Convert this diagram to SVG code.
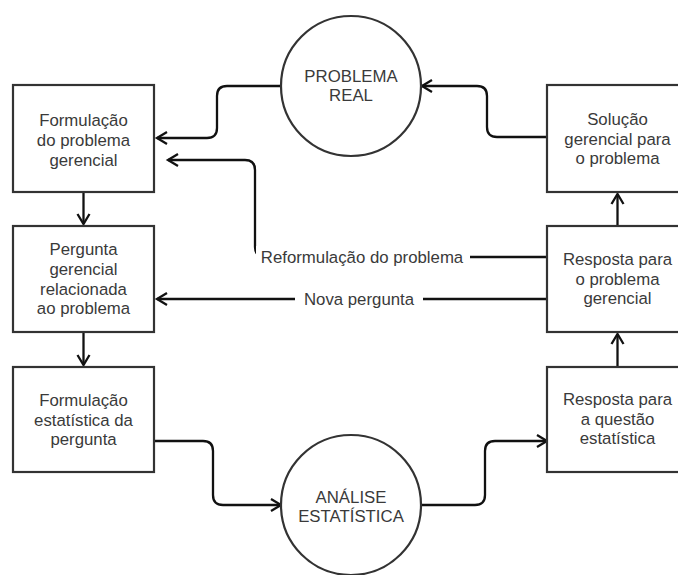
<svg xmlns="http://www.w3.org/2000/svg" width="678" height="575" viewBox="0 0 678 575">
<style>
.box{fill:#fff;stroke:#333;stroke-width:2.2}
.t{font-family:"Liberation Sans",Arial,sans-serif;font-size:16.8px;fill:#3a3a3a;text-anchor:middle}
.c{fill:none;stroke:#111;stroke-width:2.3;marker-end:url(#arr)}
.lb{fill:#fff}
</style>
<defs>
<marker id="arr" markerUnits="userSpaceOnUse" markerWidth="16" markerHeight="16" viewBox="-12 -8 16 16" refX="0" refY="0" orient="auto">
<path d="M-10,-6 L0,0 L-10,6" fill="none" stroke="#111" stroke-width="2.3"/>
</marker>
</defs>
<rect width="678" height="575" fill="#fff"/>
<g id="connectors">
<path class="c" d="M281,86 H227 Q217,86 217,96 V128 Q217,138 207,138 H157"/>
<path class="c" d="M547,137 H497 Q487,137 487,127 V96 Q487,86 477,86 H422"/>
<path class="c" d="M547,257 H265 Q255,257 255,247 V170 Q255,160 245,160 H168"/>
<rect class="lb" x="256" y="246" width="214" height="22"/>
<text class="t" x="362" y="263">Reformulação do problema</text>
<path class="c" d="M547,299 H157"/>
<rect class="lb" x="295" y="288" width="128" height="22"/>
<text class="t" x="359" y="305">Nova pergunta</text>
<path class="c" d="M154,441 H203 Q213,441 213,451 V495 Q213,505 223,505 H281"/>
<path class="c" d="M421,505 H475 Q485,505 485,495 V451 Q485,441 495,441 H547"/>
<path class="c" d="M83.5,192 V224"/>
<path class="c" d="M83.5,332 V365"/>
<path class="c" d="M617.5,367 V334"/>
<path class="c" d="M617.5,226 V194"/>
</g>
<g id="problema-real">
<circle class="box" cx="351" cy="86" r="70"/>
<text class="t" x="351" y="82">PROBLEMA</text>
<text class="t" x="351" y="101">REAL</text>
</g>
<g id="analise">
<circle class="box" cx="351" cy="505" r="70"/>
<text class="t" x="351" y="503">ANÁLISE</text>
<text class="t" x="351" y="522">ESTATÍSTICA</text>
</g>
<g id="formulacao-problema">
<rect class="box" x="13" y="85" width="141" height="107"/>
<text class="t" x="83.5" y="126">Formulação</text>
<text class="t" x="83.5" y="146">do problema</text>
<text class="t" x="83.5" y="166">gerencial</text>
</g>
<g id="pergunta-gerencial">
<rect class="box" x="13" y="226" width="141" height="106"/>
<text class="t" x="83.5" y="255">Pergunta</text>
<text class="t" x="83.5" y="275">gerencial</text>
<text class="t" x="83.5" y="295">relacionada</text>
<text class="t" x="83.5" y="314">ao problema</text>
</g>
<g id="formulacao-estatistica">
<rect class="box" x="13" y="367" width="141" height="105"/>
<text class="t" x="83.5" y="406">Formulação</text>
<text class="t" x="83.5" y="426">estatística da</text>
<text class="t" x="83.5" y="445">pergunta</text>
</g>
<g id="solucao">
<rect class="box" x="547" y="85" width="141" height="107"/>
<text class="t" x="617.5" y="125">Solução</text>
<text class="t" x="617.5" y="145">gerencial para</text>
<text class="t" x="617.5" y="164">o problema</text>
</g>
<g id="resposta-problema">
<rect class="box" x="547" y="226" width="141" height="106"/>
<text class="t" x="617.5" y="265">Resposta para</text>
<text class="t" x="617.5" y="285">o problema</text>
<text class="t" x="617.5" y="304">gerencial</text>
</g>
<g id="resposta-questao">
<rect class="box" x="547" y="367" width="141" height="105"/>
<text class="t" x="617.5" y="405">Resposta para</text>
<text class="t" x="617.5" y="425">a questão</text>
<text class="t" x="617.5" y="444">estatística</text>
</g>
</svg>
